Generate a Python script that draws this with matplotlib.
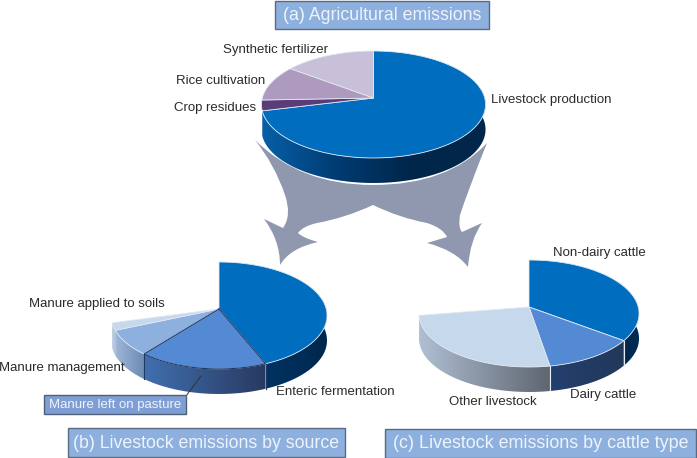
#three linked perspective pies: agricultural emissions and two livestock breakdowns

# Imports
# ------------------------------------------------
import numpy as np
import matplotlib
matplotlib.use("Agg")
from matplotlib import pyplot as plt
from matplotlib.colors import LinearSegmentedColormap
from matplotlib.patches import PathPatch, Polygon, Rectangle
from matplotlib.path import Path
# ------------------------------------------------

plt.rcParams['font.family'] = ['Liberation Sans', 'DejaVu Sans']

# Data (percent of the whole pie, gap = part of the circle left empty)
# ------------------------------------------------
agri_names = ["Livestock production", "Crop residues", "Rice cultivation", "Synthetic fertilizer"]
agri_values = [71.2, 3.2, 10.8, 14.8]

source_names = ["Enteric fermentation", "Manure left on pasture", "Manure management", "Manure applied to soils", "gap"]
source_values = [43.7, 17.2, 7.8, 2.2, 29.1]

cattle_names = ["Non-dairy cattle", "Dairy cattle", "Other livestock", "gap"]
cattle_values = [35.1, 12.2, 25.2, 27.5]

titles = ["(a) Agricultural emissions", "(b) Livestock emissions by source", "(c) Livestock emissions by cattle type"]
# ------------------------------------------------

# Colours: top face, then left to right colours of the side wall
BLUE = '#006dbe'
MID = '#5489d3'
PALE = '#c5d8ec'
agri_style = [(BLUE, ['#075fa8', '#003c72', '#00264a', '#00264a']),
              ('#5a3d78', None),
              ('#ae9abf', None),
              ('#c8bfd8', None)]
source_style = [(BLUE, ['#003262', '#00284e']),
                (MID, ['#416fb0', '#283a60']),
                ('#8db0de', ['#a0b8d8', '#6c8ab2']),
                (PALE, ['#c6d4e4', '#a8bcd4']),
                None]
cattle_style = [(BLUE, ['#00284e', '#002c56']),
                (MID, ['#24406e', '#22375a']),
                (PALE, ['#b0bfd4', '#5e6670']),
                None]

K = 0.1215   # perspective strength
FLAT = 52.7  # vertical radius
DEPTH = 25


def project(t, cx, cy, R):
    # t in degrees, clockwise from the top of the circle
    u = np.sin(np.radians(t))
    v = -np.cos(np.radians(t))
    d = 1 - K * v
    return cx + R * u / d, cy + FLAT * v / d


def draw_pie(ax, values, style, cx, cy, R, edge='#dfe8f2'):
    ends = np.cumsum(values) * 3.6
    starts = ends - np.array(values) * 3.6
    # walls first, the tops cover whatever is behind
    for t0, t1, st in zip(starts, ends, style):
        if st is None or st[1] is None:
            continue
        lo, hi = max(t0, 80), min(t1, 280)
        if lo >= hi:
            continue
        ts = np.linspace(lo, hi, 200)
        xs, ys = project(ts, cx, cy, R)
        outline = np.r_[np.c_[xs, ys], np.c_[xs, ys + DEPTH][::-1]]
        cmap = LinearSegmentedColormap.from_list('wall', st[1])
        im = ax.imshow(np.linspace(0, 1, 256)[None, :], cmap=cmap, aspect='auto', zorder=3,
                       extent=(xs.min(), xs.max(), ys.max() + DEPTH, ys.min()), interpolation='bilinear')
        im.set_clip_path(Polygon(outline, closed=True, transform=ax.transData))
    for t0, t1, st in zip(starts, ends, style):
        if st is None:
            continue
        ts = np.linspace(t0, t1, int((t1 - t0) * 2) + 2)
        xs, ys = project(ts, cx, cy, R)
        pts = [(cx, cy)] + list(zip(xs, ys))
        ax.add_patch(Polygon(pts, closed=True, facecolor=st[0], edgecolor=edge, linewidth=0.6, zorder=4))


def box(ax, x0, y0, x1, y1, text, size):
    ax.add_patch(Rectangle((x0, y0), x1 - x0, y1 - y0, facecolor='#8eb0de', edgecolor='#5a6a80', linewidth=1.0, zorder=6))
    ax.text((x0 + x1) / 2, (y0 + y1) / 2 + 0.5, text, color='#edf3fb', fontsize=size, ha='center', va='center', zorder=7)


fig = plt.figure(figsize=(6.97, 4.58), dpi=100)
ax = fig.add_axes([0, 0, 1, 1])
ax.axis('off')

# Grey forked arrow between the pies
C3 = Path.CURVE3
arrow = [
    (Path.MOVETO, (255, 140)),
    (C3, (300, 185)), (C3, (373, 185)),
    (C3, (448, 185)), (C3, (487, 143)),
    (C3, (468, 190)), (C3, (460, 215)),
    (C3, (458, 228)), (C3, (462, 232)),
    (Path.LINETO, (482, 223)),
    (C3, (470, 240)), (C3, (468, 267)),
    (C3, (455, 250)), (C3, (427, 243)),
    (Path.LINETO, (447, 237)),
    (C3, (443, 228)), (C3, (427, 223)),
    (C3, (400, 218)), (C3, (373, 205)),
    (C3, (345, 218)), (C3, (317, 223)),
    (C3, (303, 226)), (C3, (298, 233)),
    (C3, (303, 238)), (C3, (318, 242)),
    (C3, (290, 248)), (C3, (280, 265)),
    (C3, (280, 240)), (C3, (264, 219)),
    (Path.LINETO, (283, 228)),
    (C3, (292, 215)), (C3, (285, 195)),
    (C3, (275, 165)), (C3, (255, 140)),
    (Path.CLOSEPOLY, (255, 140)),
]
codes, verts = zip(*arrow)
ax.add_patch(PathPatch(Path(verts, codes), facecolor='#8f98ae', edgecolor='none', zorder=1))

# Pies
draw_pie(ax, agri_values, agri_style, 373.5, 98, 111.2)
draw_pie(ax, source_values, source_style, 219, 309, 107.2)
draw_pie(ax, cattle_values, cattle_style, 529, 307, 109.2)

# Dark outline on the pasture slice, light seams on the cattle walls
t0, t1 = np.array([source_values[0], sum(source_values[:2])]) * 3.6
ts = np.linspace(t0, t1, 80)
xs, ys = project(ts, 219, 309, 107.2)
ax.plot(np.r_[219, xs, 219], np.r_[309, ys, 309], color='#1f3864', lw=0.8, zorder=5)
for t in (t0, t1):
    x, y = project(t, 219, 309, 107.2)
    ax.plot([x, x], [y, y + DEPTH], color='#1f3864', lw=0.8, zorder=5)
for share in np.cumsum(cattle_values[:2]):
    x, y = project(share * 3.6, 529, 307, 109.2)
    ax.plot([x, x], [y, y + DEPTH], color='#e6edf5', lw=0.8, zorder=5)

# Slice labels
label = dict(color='#2a2a2a', fontsize=9.5, va='center', zorder=7)
ax.text(491, 99.5, agri_names[0], ha='left', **label)
ax.text(256, 107.5, agri_names[1], ha='right', **label)
ax.text(265, 81, agri_names[2], ha='right', **label)
ax.text(328, 49.5, agri_names[3], ha='right', **label)
ax.text(276, 392, source_names[0], ha='left', **label)
ax.text(125, 368.5, source_names[2], ha='right', **label)
ax.text(165, 304, source_names[3], ha='right', **label)
ax.text(553, 253, cattle_names[0], ha='left', **label)
ax.text(570, 395, cattle_names[1], ha='left', **label)
ax.text(449, 402, cattle_names[2], ha='left', **label)

# Boxed label with its leader line
ax.plot([186, 201], [396, 376], color='#333333', lw=0.7, zorder=5)
ax.add_patch(Rectangle((44, 395), 142, 19, facecolor='#7f9fd4', edgecolor='#4f5f78', linewidth=1.0, zorder=6))
ax.text(115, 405, source_names[1], color='#edf3fb', fontsize=9.5, ha='center', va='center', zorder=7)

# Title boxes
box(ax, 275, 0.5, 488.5, 29, titles[0], 12.8)
box(ax, 68, 428, 345, 457, titles[1], 12.8)
box(ax, 385, 429, 696, 457.5, titles[2], 12.9)

# imshow resets the limits, so set them last
ax.set_xlim(0, 697)
ax.set_ylim(458, 0)
ax.set_aspect('auto')

fig.savefig("out.png", dpi=100)
